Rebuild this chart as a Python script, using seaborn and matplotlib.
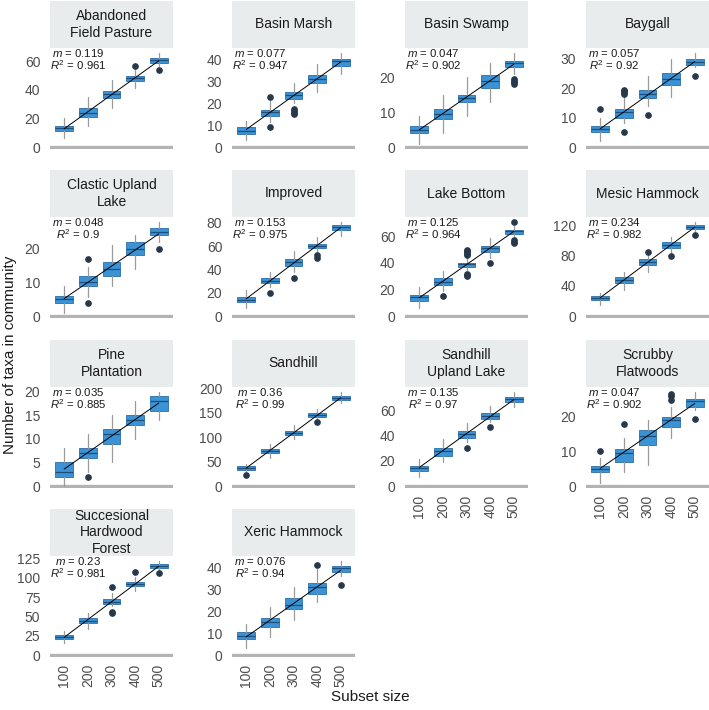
"""Taxa accumulation boxplots per natural community, faceted like ggplot."""

import matplotlib

matplotlib.use("Agg")

import matplotlib.pyplot as plt
import numpy as np
import pandas as pd
import seaborn as sns
from matplotlib.patches import Rectangle
from matplotlib.ticker import MultipleLocator

communities = [
    "Abandoned Field Pasture", "Basin Marsh", "Basin Swamp", "Baygall",
    "Clastic Upland Lake", "Improved", "Lake Bottom", "Mesic Hammock",
    "Pine Plantation", "Sandhill", "Sandhill Upland Lake", "Scrubby Flatwoods",
    "Succesional Hardwood Forest", "Xeric Hammock",
]
strip_labels = [
    "Abandoned\nField Pasture", "Basin Marsh", "Basin Swamp", "Baygall",
    "Clastic Upland\nLake", "Improved", "Lake Bottom", "Mesic Hammock",
    "Pine\nPlantation", "Sandhill", "Sandhill\nUpland Lake", "Scrubby\nFlatwoods",
    "Succesional\nHardwood\nForest", "Xeric Hammock",
]
subset_sizes = [100, 200, 300, 400, 500]

slopes = [0.119, 0.077, 0.047, 0.057, 0.048, 0.153, 0.125, 0.234, 0.035, 0.36, 0.135, 0.047, 0.23, 0.076]
r_squared = [0.961, 0.947, 0.902, 0.92, 0.9, 0.975, 0.964, 0.982, 0.885, 0.99, 0.97, 0.902, 0.981, 0.94]
y_tick_step = [20, 10, 10, 10, 10, 20, 20, 40, 5, 50, 20, 10, 25, 10]

whisker_low = [
    [6, 15, 27, 41, 57], [3, 11.5, 20, 25, 33.5], [1, 4, 9, 13, 21], [2, 8, 14, 17, 27],
    [1, 5.5, 9, 14, 22], [7, 25, 38, 54, 69], [6, 19, 35, 44, 60], [15, 34, 59, 84, 112],
    [0, 3, 5, 10, 14], [28, 57, 96, 136, 170], [7, 19, 35, 51, 63], [1, 4, 6, 14, 22],
    [16, 33.5, 63, 83, 110], [3, 8, 16, 24, 36],
]
box_q1 = [
    [11, 21, 34, 46, 59], [6, 14, 22, 29, 37], [4, 8, 13, 17, 23], [5, 10, 16.5, 21, 28],
    [4, 9, 12, 18, 24], [12, 28, 43, 58, 74], [11, 23, 37, 48, 62], [21, 43.5, 68, 90.5, 115],
    [2, 6, 9, 13, 16], [33, 67.5, 105, 141, 177], [12, 24, 38.5, 53.5, 67], [4, 7, 12, 17, 23],
    [20.5, 41, 66, 89, 113], [7.3, 13, 21, 28, 38],
]
box_median = [
    [13, 24, 37, 48, 61], [7.5, 16, 23.5, 31, 39], [5, 9.5, 14, 19, 24], [6, 12, 18, 23, 29],
    [5, 10, 14, 20, 25], [14, 30.5, 46, 60, 76.5], [14, 25.5, 39, 51, 64], [24, 47.5, 72, 94.5, 117.5],
    [3, 7, 11, 14, 18], [36.5, 71.5, 109, 145.5, 181], [14, 27.5, 41.5, 56, 69.5], [5, 9.5, 14.5, 19, 24.5],
    [23, 44.5, 69, 92.5, 115.5], [8.8, 15, 23, 31, 39.5],
]
box_q3 = [
    [15, 27, 39.5, 50, 62], [9, 17, 25, 33, 40], [6, 11, 15, 20.5, 24.5], [7, 13, 19.5, 25, 30],
    [6, 12, 16, 22, 26], [16, 33, 49, 62, 78.5], [16, 28.5, 40, 53, 65], [26.5, 51.5, 75, 98, 120],
    [5, 8, 12, 15, 19], [40, 76, 113, 149, 185], [16, 30.5, 44, 58, 71], [5.7, 10.7, 16.3, 20, 25.2],
    [25.5, 48, 72, 95, 117.5], [10.3, 17, 26, 32.7, 40.4],
]
whisker_high = [
    [20, 35, 47, 54, 66], [12, 21, 29, 38, 43], [9, 15, 20, 24, 27], [10, 17, 24, 30, 32],
    [9, 14.5, 21, 24, 28], [22, 38, 56, 68, 81], [22, 34, 44, 59, 68], [31, 59, 81, 105, 125],
    [8, 11, 15, 18, 20], [46, 86, 124, 157, 193], [21.5, 37.5, 50, 64, 75], [8, 14, 19, 23, 27.3],
    [30.5, 54, 80, 101, 122], [14, 22, 31, 39, 43],
]
outliers = [
    [[], [], [], [57], [54]],
    [[], [23, 9], [17.5, 16.5, 15.5, 15], [], []],
    [[], [], [], [], [19.5, 19, 18.5, 18]],
    [[13], [19.5, 19, 18.5, 18, 5], [11], [], [24]],
    [[], [17, 4], [], [], [20]],
    [[], [20], [33], [52, 50], []],
    [[], [15], [50, 49, 48, 47, 46, 32, 31, 30], [40], [71, 57, 56, 55]],
    [[], [], [85], [80], [108]],
    [[], [2], [], [], []],
    [[23], [], [], [131], []],
    [[], [], [30.5], [47], []],
    [[10], [18], [], [26.5, 26, 25], [19.3]],
    [[], [], [88, 56, 54], [107], [106]],
    [[], [], [], [41], [32]],
]

rows = []
for i, name in enumerate(communities):
    for j, size in enumerate(subset_sizes):
        rows.append({
            "community": name, "size": size,
            "whislo": whisker_low[i][j], "q1": box_q1[i][j], "med": box_median[i][j],
            "q3": box_q3[i][j], "whishi": whisker_high[i][j], "fliers": outliers[i][j],
        })
df = pd.DataFrame(rows)

BOX_FILL = "#3b93d6"
BOX_EDGE = "#2a6ea8"
MEDIAN = "#1d4f7e"
WHISKER = "#9a9a9a"
FLIER = "#26384a"
STRIP = "#e9ecec"
TICK = "#4d4d4d"


def draw_boxes(data, **kwargs):
    ax = plt.gca()
    stats = []
    for _, row in data.iterrows():
        stats.append({
            "whislo": row["whislo"], "q1": row["q1"], "med": row["med"],
            "q3": row["q3"], "whishi": row["whishi"], "fliers": np.asarray(row["fliers"]),
        })
    positions = data["size"].to_numpy() / 100
    ax.bxp(
        stats, positions=positions, widths=0.75, patch_artist=True, showcaps=False,
        boxprops={"facecolor": BOX_FILL, "edgecolor": BOX_EDGE, "linewidth": 0.6},
        medianprops={"color": MEDIAN, "linewidth": 0.9},
        whiskerprops={"color": WHISKER, "linewidth": 0.9},
        flierprops={"marker": "o", "markerfacecolor": FLIER, "markeredgecolor": FLIER,
                    "markersize": 3.8},
        manage_ticks=False,
    )
    # line with the reported slope through the box centres
    i = communities.index(data["community"].iloc[0])
    sizes = data["size"].to_numpy()
    intercept = np.mean(data["med"]) - slopes[i] * np.mean(sizes)
    fit = intercept + slopes[i] * sizes
    ax.plot(positions, fit, color="black", linewidth=0.7, zorder=5)


sns.set_theme(style="white")
plt.rcParams["font.family"] = ["Liberation Sans", "DejaVu Sans"]
plt.rcParams["mathtext.fontset"] = "custom"
plt.rcParams["mathtext.it"] = "Liberation Sans:italic"
plt.rcParams["mathtext.rm"] = "Liberation Sans"

g = sns.FacetGrid(df, col="community", col_order=communities, col_wrap=4,
                  sharey=False, sharex=False, height=1.5, aspect=1.0)
g.map_dataframe(draw_boxes)

fig = g.figure
fig.set_size_inches(7.09, 7.10)
W, H = 709, 710
col_left = [50, 232, 405, 586]
row_top = [48, 217, 387, 556]
panel_w, panel_h, strip_h = 123, 101, 47

for i, ax in enumerate(g.axes.flat):
    r, c = divmod(i, 4)
    ax.set_position([col_left[c] / W, 1 - (row_top[r] + panel_h) / H, panel_w / W, panel_h / H])
    for s in ax.spines.values():
        s.set_visible(False)
    ax.set_title("")
    ax.set_xlabel("")
    ax.set_ylabel("")

    top = 1.05 * max(max(whisker_high[i]), max(max(o) if o else 0 for o in outliers[i]))
    ax.set_ylim(-0.02 * top, top)
    ax.set_xlim(0.4, 5.6)
    ax.axhline(0, color="#b3b3b3", linewidth=2.4, zorder=0)
    ax.yaxis.set_major_locator(MultipleLocator(y_tick_step[i]))
    ax.tick_params(axis="y", length=0, pad=7, labelsize=10, labelcolor=TICK)

    ax.set_xticks(range(1, 6))
    has_below = i + 4 < len(communities)
    ax.set_xticklabels([str(s) for s in subset_sizes], rotation=90)
    ax.tick_params(axis="x", length=0, pad=5, labelsize=10, labelcolor=TICK,
                   labelbottom=not has_below)

    ax.add_patch(Rectangle((0, 1), 1, strip_h / panel_h, transform=ax.transAxes,
                           facecolor=STRIP, edgecolor="none", clip_on=False))
    ax.text(0.5, 1 + strip_h / panel_h / 2, strip_labels[i], transform=ax.transAxes,
            ha="center", va="center", fontsize=10, color="#1a1a1a", linespacing=1.25)

    ax.text(0.23, 1 - 5 / panel_h, f"$m$ = {slopes[i]}", transform=ax.transAxes,
            ha="center", va="center", fontsize=8.2, color="#1a1a1a")
    ax.text(0.23, 1 - 17 / panel_h, f"$R^2$ = {r_squared[i]}", transform=ax.transAxes,
            ha="center", va="center", fontsize=8.2, color="#1a1a1a")

fig.text(10 / W, 1 - 355 / H, "Number of taxa in community", rotation=90,
         ha="center", va="center", fontsize=11, color="#1a1a1a")
fig.text(370 / W, 1 - 697 / H, "Subset size", ha="center", va="center",
         fontsize=11, color="#1a1a1a")

fig.savefig("out.png", dpi=100)
plt.close(fig)
